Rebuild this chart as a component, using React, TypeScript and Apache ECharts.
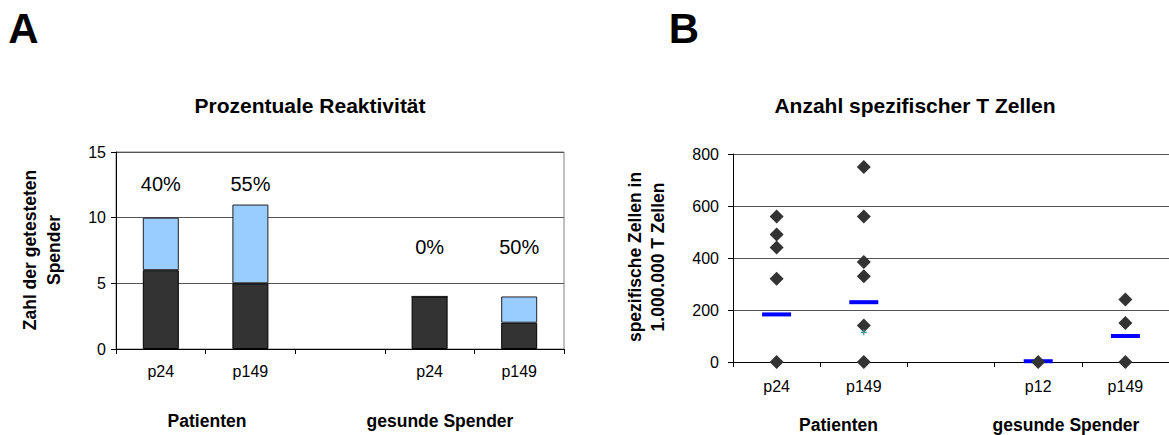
import React, { useEffect, useRef } from "react";
import * as echarts from "echarts";

// ---- Panel A data ----
const catA = ["p24", "p149", "", "p24", "p149"];
const nonReactive = [6, 5, null, 4, 2];
const reactive = [4, 6, null, 0, 2];
const pctLabels = ["40%", "55%", "", "0%", "50%"];
const pctLabelY = [12.6, 12.6, null, 7.8, 7.8];
const yTicksA = { min: 0, max: 15, interval: 5 };

// ---- Panel B data ----
const catB = ["p24", "p149", "", "p12", "p149"];
const pointsB: number[][] = [
  [560, 490, 440, 320, 0],
  [750, 560, 385, 330, 140, 0],
  [],
  [0],
  [240, 150, 0],
];
const meansB = [183, 230, null, 3, 100];
const crossB = [null, 114, null, null, null];
const yTicksB = { min: 0, max: 800, interval: 200 };

const FONT = "Liberation Sans, Arial, Helvetica, sans-serif";

export default function App() {
  const ref = useRef<HTMLDivElement>(null);
  useEffect(() => {
    if (!ref.current) return;
    const chart = echarts.init(ref.current, null, { renderer: "svg" });

    const diamondData: [number, number][] = [];
    pointsB.forEach((arr, i) => arr.forEach((v) => diamondData.push([i, v])));

    const axisLabelStyle = { color: "#000", fontSize: 16, fontFamily: FONT };
    const boldText = (text: string, x: number, y: number, size = 17.5, rot = 0, lh = 24) => ({
      type: "text",
      x,
      y,
      rotation: rot,
      style: {
        text,
        fill: "#000",
        font: `bold ${size}px ${FONT}`,
        textAlign: "center",
        textVerticalAlign: "middle",
        lineHeight: lh,
      },
    });

    chart.setOption({
      animation: false,
      backgroundColor: "#fff",
      grid: [
        { left: 116, top: 152, width: 448, height: 197, show: true, borderColor: "#808080", borderWidth: 1, backgroundColor: "transparent" },
        { left: 733, top: 154, width: 436, height: 208 },
      ],
      xAxis: [
        {
          type: "category",
          gridIndex: 0,
          data: catA,
          axisLine: { show: true, lineStyle: { color: "#000", width: 1 } },
          axisTick: { show: true, length: 5, lineStyle: { color: "#000" } },
          axisLabel: { ...axisLabelStyle, margin: 14, interval: 0 },
          splitLine: { show: false },
        },
        {
          type: "category",
          gridIndex: 1,
          data: catB,
          axisLine: { show: true, lineStyle: { color: "#000", width: 1 } },
          axisTick: { show: true, length: 5, lineStyle: { color: "#000" } },
          axisLabel: { ...axisLabelStyle, margin: 16, interval: 0 },
          splitLine: { show: false },
        },
      ],
      yAxis: [
        {
          type: "value",
          gridIndex: 0,
          ...yTicksA,
          axisLine: { show: true, lineStyle: { color: "#000", width: 1 } },
          axisTick: { show: true, length: 5, lineStyle: { color: "#000" } },
          axisLabel: { ...axisLabelStyle, margin: 10 },
          splitLine: { show: true, lineStyle: { color: "#555", width: 1 } },
        },
        {
          type: "value",
          gridIndex: 1,
          ...yTicksB,
          axisLine: { show: true, lineStyle: { color: "#000", width: 1 } },
          axisTick: { show: true, length: 5, lineStyle: { color: "#000" } },
          axisLabel: { ...axisLabelStyle, margin: 14 },
          splitLine: { show: true, lineStyle: { color: "#555", width: 1 } },
        },
      ],
      series: [
        {
          type: "bar",
          name: "nicht reaktiv",
          xAxisIndex: 0,
          yAxisIndex: 0,
          stack: "a",
          barWidth: 36,
          data: nonReactive,
          itemStyle: { color: "#333333", borderColor: "#000", borderWidth: 1 },
        },
        {
          type: "bar",
          name: "reaktiv",
          xAxisIndex: 0,
          yAxisIndex: 0,
          stack: "a",
          barWidth: 36,
          data: reactive,
          itemStyle: { color: "#99ccff", borderColor: "#222", borderWidth: 1 },
        },
        {
          type: "scatter",
          name: "Prozent",
          xAxisIndex: 0,
          yAxisIndex: 0,
          symbolSize: 0,
          itemStyle: { opacity: 1 },
          data: pctLabelY.map((v, i) => (v == null ? null : [i, v])),
          label: {
            show: true,
            position: "inside",
            color: "#000",
            opacity: 1,
            fontSize: 20,
            fontFamily: FONT,
            formatter: (p: any) => pctLabels[p.data[0]],
          },
        },
        {
          type: "scatter",
          name: "Mittelwert",
          xAxisIndex: 1,
          yAxisIndex: 1,
          symbol: "rect",
          symbolSize: [29, 4],
          itemStyle: { color: "#0000ff", opacity: 1 },
          data: meansB.map((v, i) => (v == null ? null : [i, v])),
        },
        {
          type: "scatter",
          name: "Spender",
          xAxisIndex: 1,
          yAxisIndex: 1,
          symbol: "diamond",
          symbolSize: 14,
          itemStyle: { color: "#333333", opacity: 1 },
          data: diamondData,
        },
        {
          type: "scatter",
          name: "kreuz",
          xAxisIndex: 1,
          yAxisIndex: 1,
          symbol: "path://M4,0H6V4H10V6H6V10H4V6H0V4H4Z",
          symbolSize: 6,
          itemStyle: { color: "#33999a", opacity: 1 },
          data: crossB.map((v, i) => (v == null ? null : [i, v])),
        },
      ],
      graphic: [
        boldText("A", 23.5, 28, 42),
        boldText("B", 684, 28, 42),
        boldText("Prozentuale Reaktivität", 310, 105, 21),
        boldText("Anzahl spezifischer T Zellen", 915, 105, 21),
        boldText("Zahl der getesteten\nSpender", 42, 250, 17.5, Math.PI / 2, 24),
        boldText("spezifische Zellen in\n1.000.000 T Zellen", 646.5, 257, 17.5, Math.PI / 2, 23),
        boldText("Patienten", 207, 421),
        boldText("gesunde Spender", 440, 421),
        boldText("Patienten", 838.5, 425),
        boldText("gesunde Spender", 1066, 425),
      ],
    });
    return () => chart.dispose();
  }, []);
  return (
    <div
      ref={ref}
      style={{ position: "fixed", left: 0, top: 0, width: 1169, height: 435, background: "#fff" }}
    />
  );
}
